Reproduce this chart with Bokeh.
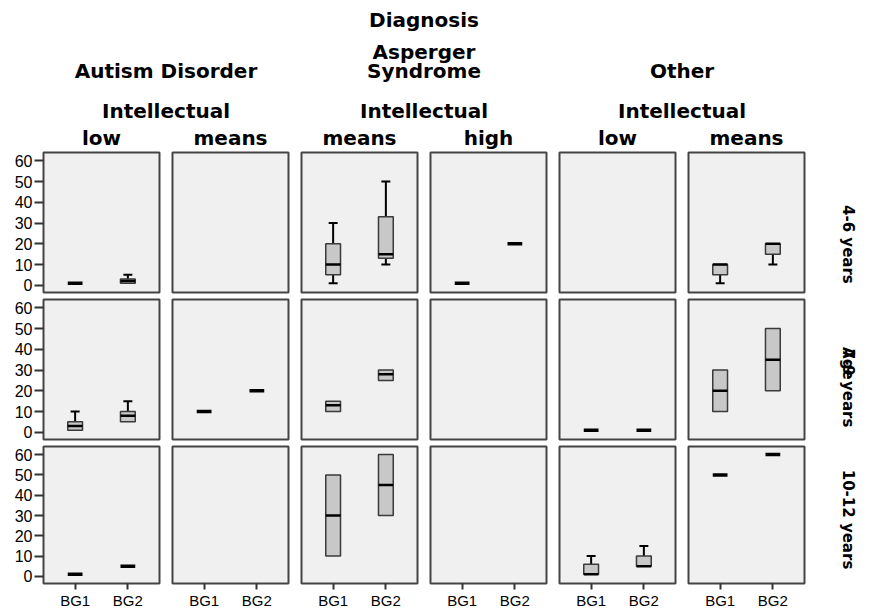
from bokeh.plotting import figure
from bokeh.layouts import row, column
from bokeh.models import Range1d, FixedTicker, ColumnDataSource
from bokeh.core.properties import value
from bokeh.embed import file_html
from bokeh.resources import INLINE

# ---------------- data ----------------
age_groups = ["4-6 years", "7-9 years", "10-12 years"]
row_title = "Age"
top_title = "Diagnosis"
diagnoses = ["Autism Disorder", "Asperger\nSyndrome", "Other"]
intellect_title = "Intellectual"
intellect_levels = ["low", "means", "means", "high", "low", "means"]
bg_labels = ["BG1", "BG2"]
y_ticks = [0, 10, 20, 30, 40, 50, 60]

N = None
# [age row][panel column] -> [BG1, BG2]; None = no cases
stat_min = [
    [[1, 1], [N, N], [1, 10], [1, 20], [N, N], [1, 10]],
    [[1, 5], [10, 20], [10, 25], [N, N], [1, 1], [10, 20]],
    [[1, 5], [N, N], [10, 30], [N, N], [1, 5], [50, 60]],
]
stat_q1 = [
    [[1, 1], [N, N], [5, 13], [1, 20], [N, N], [5, 15]],
    [[1, 5], [10, 20], [10, 25], [N, N], [1, 1], [10, 20]],
    [[1, 5], [N, N], [10, 30], [N, N], [1, 5], [50, 60]],
]
stat_med = [
    [[1, 2], [N, N], [10, 15], [1, 20], [N, N], [10, 20]],
    [[3, 8], [10, 20], [13, 28], [N, N], [1, 1], [20, 35]],
    [[1, 5], [N, N], [30, 45], [N, N], [1, 5], [50, 60]],
]
stat_q3 = [
    [[1, 3], [N, N], [20, 33], [1, 20], [N, N], [10, 20]],
    [[5, 10], [10, 20], [15, 30], [N, N], [1, 1], [30, 50]],
    [[1, 5], [N, N], [50, 60], [N, N], [6, 10], [50, 60]],
]
stat_max = [
    [[1, 5], [N, N], [30, 50], [1, 20], [N, N], [10, 20]],
    [[10, 15], [10, 20], [15, 30], [N, N], [1, 1], [30, 50]],
    [[1, 5], [N, N], [50, 60], [N, N], [10, 15], [50, 60]],
]

# ---------------- layout constants ----------------
FRAME_W = 116
GAP_R = 11
LEFT_AXIS = 43
HEADER_H = 150
RIGHT_W = 60
BOX_W = 0.28
CAP_HW = 0.085
HEAD_FONT = "DejaVu Sans"
TICK_FONT = "Liberation Sans"
row_frame_h = [140, 140, 141]
row_bottom = [5, 5, 24]

col_left = [LEFT_AXIS if c == 0 else 2 for c in range(6)]
col_right = [2 if c == 5 else GAP_R for c in range(6)]
col_w = [col_left[c] + FRAME_W + col_right[c] for c in range(6)]
TOTAL_W = sum(col_w) + RIGHT_W
frame_cx = []
acc = 0
for c in range(6):
    frame_cx.append(acc + col_left[c] + FRAME_W / 2)
    acc += col_w[c]


def style_axis(ax, tick_out, size, standoff):
    ax.axis_line_color = None
    ax.major_tick_out = tick_out
    ax.major_tick_in = 0
    ax.major_tick_line_width = 2
    ax.major_tick_line_color = "#333333"
    ax.minor_tick_line_color = None
    ax.major_label_text_font = TICK_FONT
    ax.major_label_text_font_size = size
    ax.major_label_text_color = "black"
    ax.major_label_standoff = standoff


def make_panel(r, c):
    top = 2
    bottom = row_bottom[r]
    p = figure(width=col_w[c], height=top + row_frame_h[r] + bottom,
               x_range=Range1d(0.4, 2.6), y_range=Range1d(-3.5, 64),
               output_backend="svg", toolbar_location=None, title=None,
               min_border_left=col_left[c], min_border_right=col_right[c],
               min_border_top=top, min_border_bottom=bottom,
               x_axis_location="below" if r == 2 else None,
               y_axis_location="left" if c == 0 else None)
    p.background_fill_color = "#f0f0f0"
    p.border_fill_color = "white"
    p.outline_line_color = "#444444"
    p.outline_line_width = 2
    p.grid.visible = False

    if c == 0:
        ax = p.yaxis[0]
        ax.ticker = FixedTicker(ticks=y_ticks)
        style_axis(ax, 9, "16px", 2)
    if r == 2:
        ax = p.xaxis[0]
        ax.ticker = FixedTicker(ticks=[1, 2])
        ax.major_label_overrides = {1: bg_labels[0], 2: bg_labels[1]}
        style_axis(ax, 6, "15px", 2)

    box = dict(x=[], q1=[], q3=[])
    med = dict(x0=[], x1=[], y=[])
    single = dict(x0=[], x1=[], y=[])
    wh = dict(x0=[], y0=[], x1=[], y1=[])
    caps = dict(x0=[], x1=[], y=[])
    for j in range(2):
        mn = stat_min[r][c][j]
        if mn is None:
            continue
        q1 = stat_q1[r][c][j]
        md = stat_med[r][c][j]
        q3 = stat_q3[r][c][j]
        mx = stat_max[r][c][j]
        x = j + 1
        if mn == mx:
            single["x0"].append(x - BOX_W / 2)
            single["x1"].append(x + BOX_W / 2)
            single["y"].append(md)
            continue
        box["x"].append(x)
        box["q1"].append(q1)
        box["q3"].append(q3)
        med["x0"].append(x - BOX_W / 2)
        med["x1"].append(x + BOX_W / 2)
        med["y"].append(md)
        if mn < q1:
            wh["x0"].append(x); wh["y0"].append(mn); wh["x1"].append(x); wh["y1"].append(q1)
            caps["x0"].append(x - CAP_HW); caps["x1"].append(x + CAP_HW); caps["y"].append(mn)
        if mx > q3:
            wh["x0"].append(x); wh["y0"].append(q3); wh["x1"].append(x); wh["y1"].append(mx)
            caps["x0"].append(x - CAP_HW); caps["x1"].append(x + CAP_HW); caps["y"].append(mx)

    if wh["x0"]:
        p.segment("x0", "y0", "x1", "y1", source=ColumnDataSource(wh),
                  line_color="black", line_width=2)
        p.segment("x0", "y", "x1", "y", source=ColumnDataSource(caps),
                  line_color="black", line_width=2)
    if box["x"]:
        p.vbar(x="x", bottom="q1", top="q3", width=BOX_W, source=ColumnDataSource(box),
               fill_color="#c8c8c8", line_color="#3a3a3a", line_width=1.5)
        p.segment("x0", "y", "x1", "y", source=ColumnDataSource(med),
                  line_color="black", line_width=2.5)
    if single["x0"]:
        p.segment("x0", "y", "x1", "y", source=ColumnDataSource(single),
                  line_color="black", line_width=3.5)
    return p


def text_fig(w, h):
    f = figure(width=w, height=h, x_range=Range1d(0, w), y_range=Range1d(h, 0),
               output_backend="svg", toolbar_location=None, title=None,
               x_axis_location=None, y_axis_location=None, min_border=0)
    f.grid.visible = False
    f.outline_line_color = None
    f.background_fill_color = "white"
    f.border_fill_color = "white"
    return f


# ---------------- header ----------------
hdr = text_fig(TOTAL_W, HEADER_H)
pair_cx = [(frame_cx[2 * k] + frame_cx[2 * k + 1]) / 2 for k in range(3)]
h_x, h_y, h_t = [], [], []
h_x.append(pair_cx[1]); h_y.append(19); h_t.append(top_title)
for k, d in enumerate(diagnoses):
    lines = d.split("\n")
    for i, ln in enumerate(lines):
        h_x.append(pair_cx[k])
        h_y.append(70.5 - 19.5 * (len(lines) - 1 - i))
        h_t.append(ln)
    h_x.append(pair_cx[k]); h_y.append(110.5); h_t.append(intellect_title)
for c, lvl in enumerate(intellect_levels):
    h_x.append(frame_cx[c]); h_y.append(137.5); h_t.append(lvl)
hdr.text(x=h_x, y=h_y, text=h_t, text_font=value(HEAD_FONT), text_font_style="bold",
         text_font_size="20px", text_align="center", text_baseline="middle",
         text_color="black")

# ---------------- rows ----------------
row_label_y = [96.5, 93, 89]
rows = [hdr]
for r in range(3):
    panels = [make_panel(r, c) for c in range(6)]
    h = panels[0].height
    rf = text_fig(RIGHT_W, h)
    rx, ry, rt = [41], [row_label_y[r]], [age_groups[r]]
    if r == 1:
        rx.append(41); ry.append(67); rt.append(row_title)
    rf.text(x=rx, y=ry, text=rt, angle=-1.5707963, text_font=value(HEAD_FONT),
            text_font_style="bold", text_font_size="15px", text_align="center",
            text_baseline="middle", text_color="black")
    rows.append(row(*panels, rf, spacing=0))

layout = column(*rows, spacing=0)

open("out.html", "w").write(file_html(layout, INLINE))
